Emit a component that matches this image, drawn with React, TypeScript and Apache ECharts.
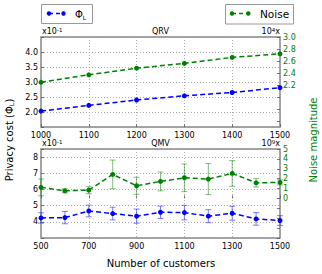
import React, { useEffect, useRef } from 'react';
import * as echarts from 'echarts';

const topCustomers = [1000, 1100, 1200, 1300, 1400, 1500];
const topPhi = [2.03, 2.22, 2.4, 2.54, 2.65, 2.81];
const topNoise = [2.245, 2.37, 2.48, 2.56, 2.66, 2.72];

const bottomCustomers = [500, 600, 700, 800, 900, 1000, 1100, 1200, 1300, 1400, 1500];
const bottomPhi = [4.24, 4.26, 4.67, 4.51, 4.35, 4.59, 4.57, 4.35, 4.53, 4.18, 4.08];
const bottomPhiErr = [0.32, 0.38, 0.36, 0.39, 0.44, 0.38, 0.45, 0.4, 0.43, 0.39, 0.3];
const bottomNoise = [1.12, 0.77, 0.84, 2.43, 1.28, 1.72, 2.09, 1.96, 2.53, 1.58, 1.62];
const bottomNoiseErr = [0.85, 0.2, 0.35, 1.45, 0.86, 0.95, 1.4, 1.57, 1.3, 0.42, 0.25];

const topLeftLabels = [2.0, 2.5, 3.0, 3.5, 4.0];
const topRightLabels = [2.2, 2.4, 2.6, 2.8, 3.0];
const topRightTicks = [1.6, 1.8, 2.0, 2.2, 2.4, 2.6, 2.8, 3.0];
const bottomLeftLabels = [4, 5, 6, 7, 8];
const bottomRightLabels = [0, 1, 2, 3, 4, 5];

const BLUE = '#0000ff';
const GREEN = '#008000';
const FONT = 'DejaVu Sans';

function pairs(xs: number[], ys: number[]) {
  return xs.map((x, i) => [x, ys[i]]);
}

function errBar(color: string) {
  return (params: any, api: any) => {
    const x = api.value(0);
    const y = api.value(1);
    const e = api.value(2);
    const lo = api.coord([x, y - e]);
    const hi = api.coord([x, y + e]);
    const st = { stroke: color, lineWidth: 1 };
    return {
      type: 'group',
      children: [
        { type: 'line', shape: { x1: lo[0], y1: lo[1], x2: hi[0], y2: hi[1] }, style: st },
        { type: 'line', shape: { x1: lo[0] - 3, y1: lo[1], x2: lo[0] + 3, y2: lo[1] }, style: st },
        { type: 'line', shape: { x1: hi[0] - 3, y1: hi[1], x2: hi[0] + 3, y2: hi[1] }, style: st },
      ],
    };
  };
}

const splitLine = { show: true, lineStyle: { color: '#999', type: [1, 2] as any, width: 0.8 } };
const tickStyle = { show: true, inside: true, length: 3, lineStyle: { color: '#555', width: 0.8 } };
const labelStyle = { fontSize: 8, color: '#000', fontFamily: FONT, margin: 3 };

function lineSeries(name: string, data: number[][], color: string, xi: number, yi: number) {
  return {
    name,
    type: 'line',
    xAxisIndex: xi,
    yAxisIndex: yi,
    data,
    symbol: 'circle',
    symbolSize: 5,
    itemStyle: { color },
    lineStyle: { color, width: 1.5, type: [5, 3] },
    z: 5,
  };
}

export default function App() {
  const ref = useRef<HTMLDivElement>(null);
  useEffect(() => {
    const chart = echarts.init(ref.current as HTMLDivElement, null, { renderer: 'svg' });
    const sup = { fontSize: 5.5, fontFamily: FONT, fill: '#000', lineHeight: 10, verticalAlign: 'top', padding: [0, 0, 4, 0] };
    const base = { fontSize: 8, fontFamily: FONT, fill: '#000', lineHeight: 10 };
    const option: any = {
      animation: false,
      textStyle: { fontFamily: FONT },
      grid: [
        { left: 41, top: 37, width: 239, height: 90, show: true, borderColor: '#888', borderWidth: 1.5, backgroundColor: 'transparent' },
        { left: 41, top: 149, width: 239, height: 89, show: true, borderColor: '#888', borderWidth: 1.5, backgroundColor: 'transparent' },
      ],
      xAxis: [
        {
          gridIndex: 0, type: 'value', min: 1000, max: 1500, interval: 100,
          axisLine: { show: false }, axisTick: tickStyle, splitLine,
          axisLabel: { ...labelStyle, margin: 4, formatter: (v: number) => String(v) },
        },
        {
          gridIndex: 1, type: 'value', min: 500, max: 1500, interval: 200,
          axisLine: { show: false }, axisTick: tickStyle, splitLine,
          axisLabel: { ...labelStyle, margin: 4, formatter: (v: number) => String(v) },
        },
      ],
      yAxis: [
        {
          gridIndex: 0, type: 'value', min: 1.5, max: 4.5, interval: 0.5, position: 'left',
          axisLine: { show: false }, axisTick: tickStyle, splitLine,
          axisLabel: { ...labelStyle, customValues: topLeftLabels, formatter: (v: number) => v.toFixed(1) },
        },
        {
          gridIndex: 0, type: 'value', min: 1.5, max: 3.0, position: 'right',
          axisLine: { show: false }, axisTick: { ...tickStyle, customValues: topRightTicks }, splitLine: { show: false },
          axisLabel: { ...labelStyle, color: GREEN, customValues: topRightLabels, formatter: (v: number) => v.toFixed(1) },
        },
        {
          gridIndex: 1, type: 'value', min: 3, max: 8.5, interval: 1, position: 'left',
          axisLine: { show: false }, axisTick: tickStyle, splitLine,
          axisLabel: { ...labelStyle, customValues: bottomLeftLabels },
        },
        {
          gridIndex: 1, type: 'value', min: -4, max: 5, interval: 1, position: 'right',
          axisLine: { show: false }, axisTick: tickStyle, splitLine: { show: false },
          axisLabel: { ...labelStyle, color: GREEN, customValues: bottomRightLabels },
        },
      ],
      series: [
        lineSeries('Φ_L', pairs(topCustomers, topPhi), BLUE, 0, 0),
        lineSeries('Noise', pairs(topCustomers, topNoise), GREEN, 0, 1),
        {
          type: 'custom', xAxisIndex: 1, yAxisIndex: 2,
          data: bottomCustomers.map((x, i) => [x, bottomPhi[i], bottomPhiErr[i]]),
          renderItem: errBar('rgba(40,40,255,0.6)'), z: 3,
        },
        {
          type: 'custom', xAxisIndex: 1, yAxisIndex: 3,
          data: bottomCustomers.map((x, i) => [x, bottomNoise[i], bottomNoiseErr[i]]),
          renderItem: errBar('rgba(0,128,0,0.5)'), z: 3,
        },
        lineSeries('Φ_L ', pairs(bottomCustomers, bottomPhi), BLUE, 1, 2),
        lineSeries('Noise ', pairs(bottomCustomers, bottomNoise), GREEN, 1, 3),
      ],
      graphic: [
        { type: 'rect', shape: { x: 41.5, y: 4.5, width: 51, height: 19 }, style: { fill: '#fff', stroke: '#999', lineWidth: 1 } },
        { type: 'line', shape: { x1: 49, y1: 13.5, x2: 63.5, y2: 13.5 }, style: { stroke: BLUE, lineWidth: 1.5, lineDash: [4, 3] } },
        { type: 'circle', shape: { cx: 49, cy: 13.5, r: 2.2 }, style: { fill: BLUE } },
        { type: 'circle', shape: { cx: 63.5, cy: 13.5, r: 2.2 }, style: { fill: BLUE } },
        {
          type: 'text', x: 75, y: 14,
          style: {
            text: '{a|Φ}{b|L}', fill: '#000', verticalAlign: 'middle',
            rich: { a: { fontSize: 10, fontFamily: FONT, lineHeight: 12 }, b: { fontSize: 6, fontFamily: FONT, lineHeight: 12, verticalAlign: 'bottom', padding: [4, 0, 0, 0] } },
          },
        },
        { type: 'rect', shape: { x: 225.5, y: 4.5, width: 68, height: 19.5 }, style: { fill: '#fff', stroke: '#999', lineWidth: 1 } },
        { type: 'line', shape: { x1: 232, y1: 13.5, x2: 248.3, y2: 13.5 }, style: { stroke: GREEN, lineWidth: 1.5, lineDash: [4, 3] } },
        { type: 'circle', shape: { cx: 232, cy: 13.5, r: 2.2 }, style: { fill: GREEN } },
        { type: 'circle', shape: { cx: 248.3, cy: 13.5, r: 2.2 }, style: { fill: GREEN } },
        { type: 'text', x: 260, y: 14, style: { text: 'Noise', fill: '#000', fontSize: 10.5, fontFamily: FONT, verticalAlign: 'middle' } },
        { type: 'text', x: 160.5, y: 31, style: { text: 'QRV', fill: '#000', fontSize: 8, fontFamily: FONT, align: 'center', verticalAlign: 'middle' } },
        { type: 'text', x: 160.5, y: 143, style: { text: 'QMV', fill: '#000', fontSize: 8, fontFamily: FONT, align: 'center', verticalAlign: 'middle' } },
        { type: 'text', x: 42, y: 31.5, style: { text: '{a|x10}{b|-1}', verticalAlign: 'middle', rich: { a: base, b: sup } } },
        { type: 'text', x: 42, y: 143.5, style: { text: '{a|x10}{b|-1}', verticalAlign: 'middle', rich: { a: base, b: sup } } },
        { type: 'text', x: 280, y: 31.5, style: { text: '{a|10}{b|4}{a|x}', align: 'right', verticalAlign: 'middle', rich: { a: base, b: sup } } },
        { type: 'text', x: 280, y: 143.5, style: { text: '{a|10}{b|9}{a|x}', align: 'right', verticalAlign: 'middle', rich: { a: base, b: sup } } },
        {
          type: 'text', x: 9, y: 140, rotation: Math.PI / 2,
          style: {
            text: '{a|Privacy cost (Φ}{b|L}{a|)}', align: 'center', verticalAlign: 'middle',
            rich: { a: { fontSize: 10, fontFamily: FONT, fill: '#000', lineHeight: 12 }, b: { fontSize: 6.5, fontFamily: FONT, fill: '#000', lineHeight: 12, verticalAlign: 'bottom', padding: [4, 0, 0, 0] } },
          },
        },
        { type: 'text', x: 313, y: 140, rotation: Math.PI / 2, style: { text: 'Noise magnitude', fill: GREEN, fontSize: 10, fontFamily: FONT, align: 'center', verticalAlign: 'middle' } },
        { type: 'text', x: 161, y: 263, style: { text: 'Number of customers', fill: '#000', fontSize: 10, fontFamily: FONT, align: 'center', verticalAlign: 'middle' } },
      ],
    };
    chart.setOption(option);
    return () => chart.dispose();
  }, []);
  return <div ref={ref} style={{ position: 'absolute', left: 0, top: 0, width: 322, height: 274 }} />;
}
